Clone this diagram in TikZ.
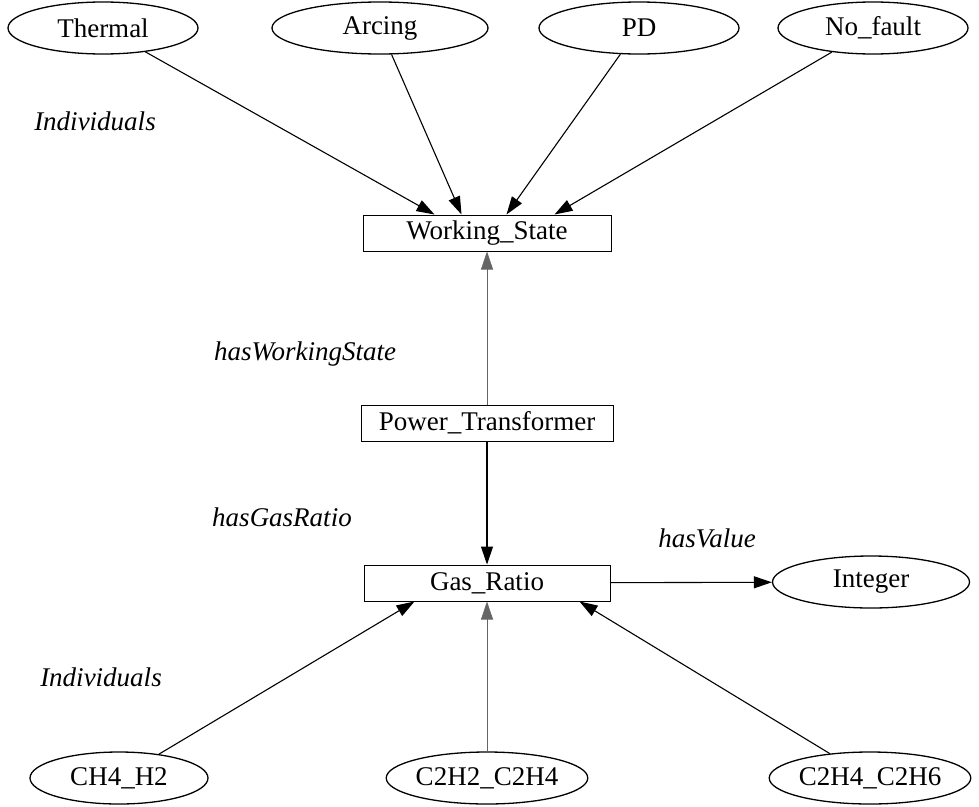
\documentclass[tikz,border=0pt]{standalone}
\usepackage{fontspec}
\setmainfont{Liberation Serif}
\usetikzlibrary{shapes.geometric,arrows.meta,calc}
\begin{document}
\begin{tikzpicture}[x=1pt,y=-1pt,
  every node/.style={font=\fontsize{27}{32}\selectfont},
  cls/.style={draw,line width=1pt,minimum height=36pt,inner sep=0pt},
  ind/.style={draw,ellipse,line width=1.3pt,minimum height=52pt,inner sep=0pt},
  lbl/.style={font=\fontsize{27}{32}\selectfont\itshape},
  link/.style={line width=1.1pt,-{Triangle[length=18pt,width=12pt]}},
  faint/.style={draw=black!60,line width=0.8pt},
]
\useasboundingbox (0,0) rectangle (979,806);

% individuals of Working_State
\node[ind,minimum width=190pt] (thermal) at (103,28) {Thermal};
\node[ind,minimum width=216pt] (arcing)  at (380,28) {Arcing};
\node[ind,minimum width=200pt] (pd)      at (639,28) {PD};
\node[ind,minimum width=190pt] (nofault) at (873,28) {No\_fault};
\node[lbl] (indtop) at (95,121) {Individuals};

% classes
\node[cls,minimum width=248pt] (ws) at (487,233) {Working\_State};
\node[cls,minimum width=252pt] (pt) at (487,423) {Power\_Transformer};
\node[cls,minimum width=246pt] (gr) at (487,583) {Gas\_Ratio};

% datatype
\node[ind,minimum width=197pt] (int) at (871,582) {Integer};

% individuals of Gas_Ratio
\node[lbl] (indbot) at (101,677) {Individuals};
\node[ind,minimum width=178pt] (ch4)  at (119,778) {CH4\_H2};
\node[ind,minimum width=194pt] (c2h2) at (487,778) {C2H2\_C2H4};
\node[ind,minimum width=196pt] (c2h4) at (870,778) {C2H4\_C2H6};

% entry points on the class boxes
\coordinate (ws1) at ([xshift=72pt]ws.north west);
\coordinate (ws2) at ([xshift=99pt]ws.north west);
\coordinate (ws3) at ([xshift=144pt]ws.north west);
\coordinate (ws4) at ([xshift=192pt]ws.north west);
\coordinate (gr1) at ([xshift=51pt]gr.south west);
\coordinate (gr3) at ([xshift=216pt]gr.south west);

\draw[link] (thermal) -- (ws1);
\draw[link] (arcing)  -- (ws2);
\draw[link] (pd)      -- (ws3);
\draw[link] (nofault) -- (ws4);

\draw[link,faint] (pt) -- (ws);
\node[lbl] (hws) at (305,354) {hasWorkingState};

\draw[link] (pt) -- (gr);
\node[lbl] (hgr) at (282,517) {hasGasRatio};

\draw[link] (gr) -- (int);
\node[lbl] (hv) at (707,538) {hasValue};

\draw[link] (ch4)  -- (gr1);
\draw[link,faint] (c2h2) -- (gr);
\draw[link] (c2h4) -- (gr3);
\end{tikzpicture}
\end{document}
